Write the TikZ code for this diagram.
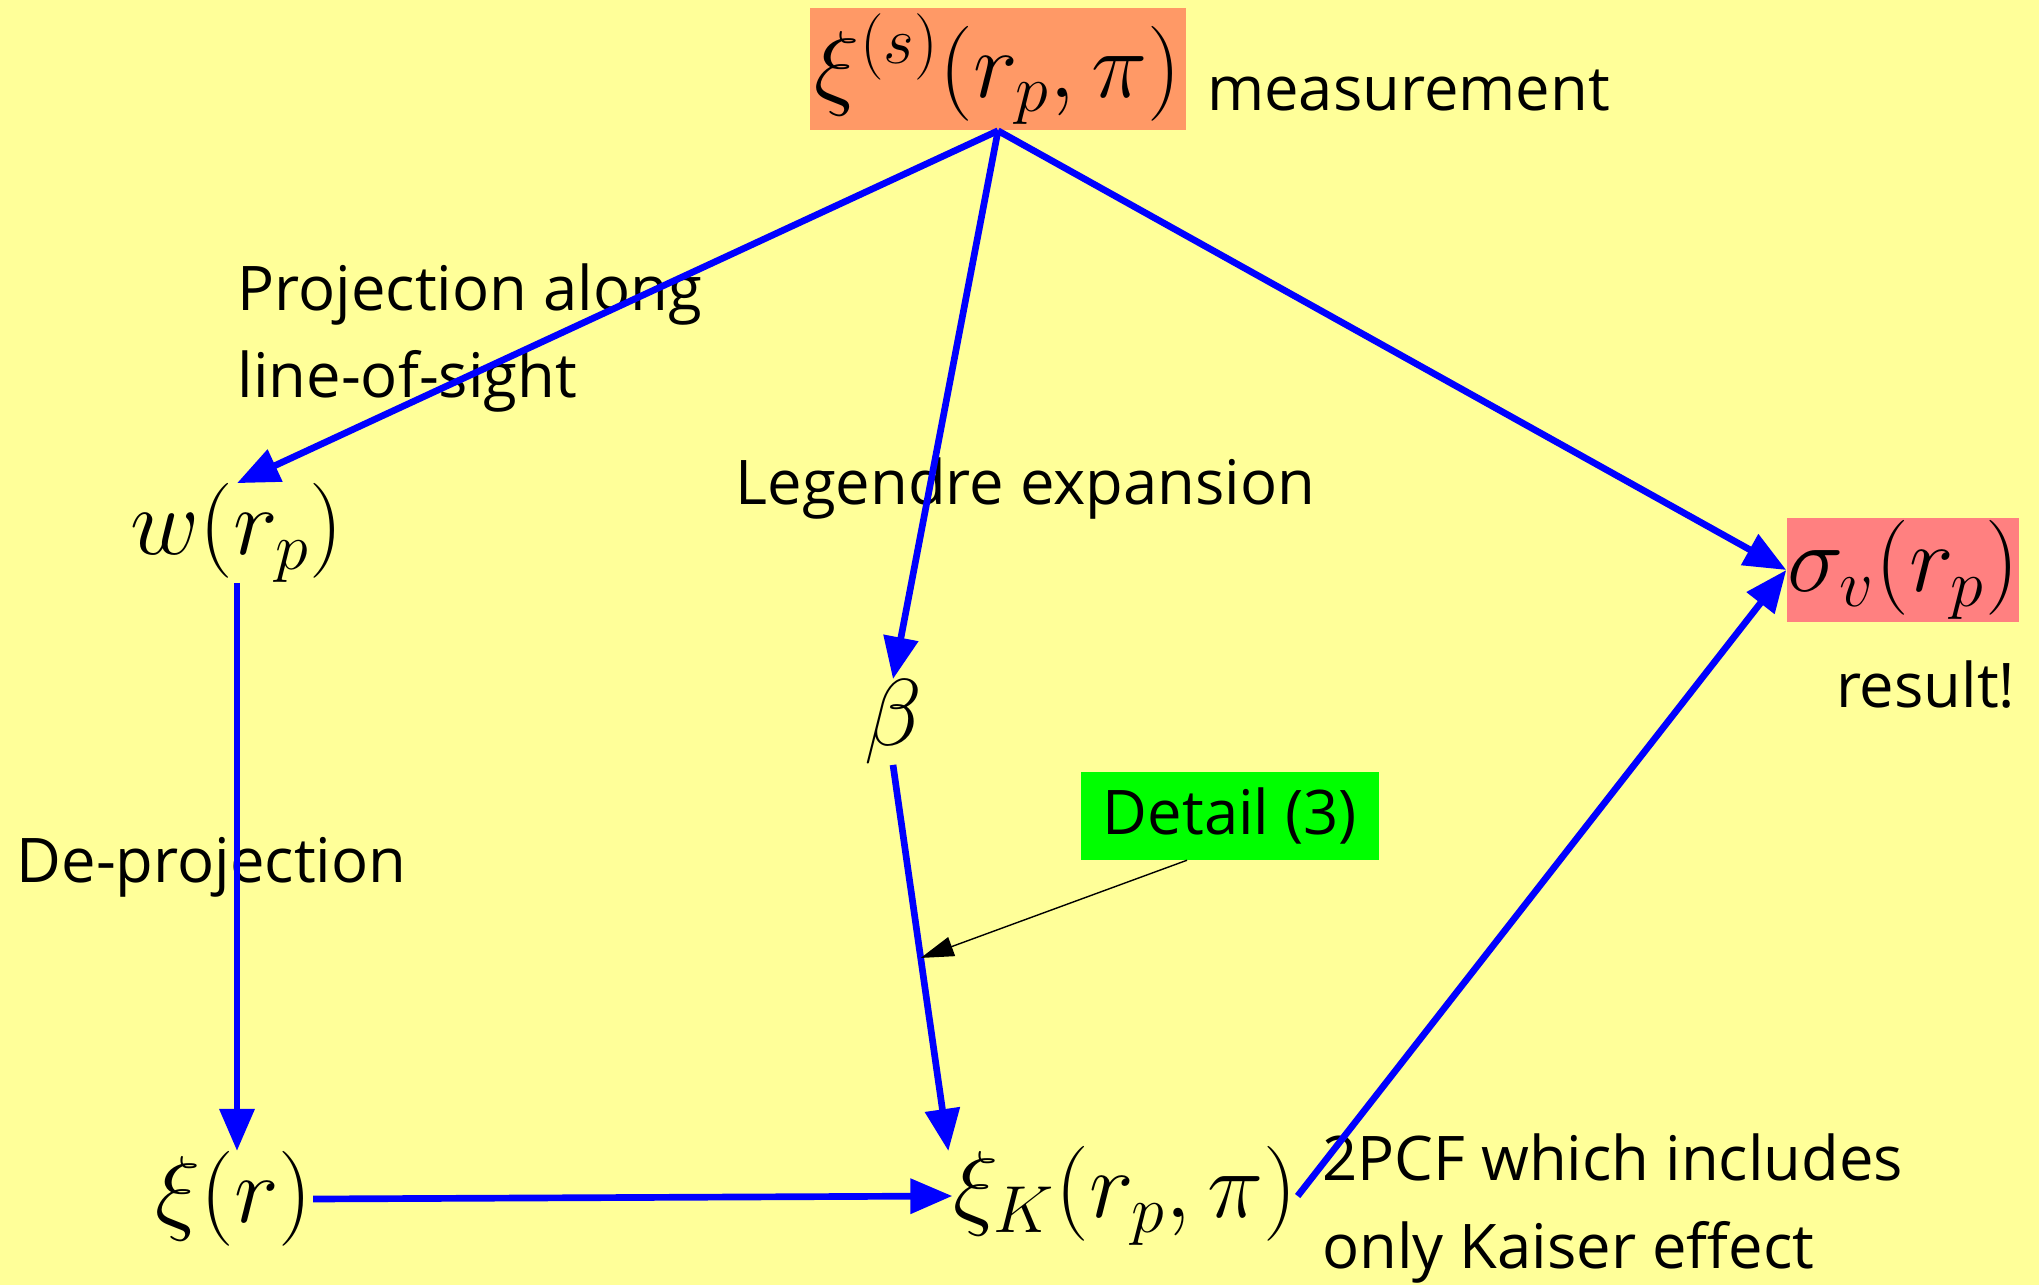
\documentclass[tikz,border=0pt]{standalone}
\usepackage{fix-cm}
\usepackage{fontspec}
\setmainfont{Open Sans}
\usepackage{tikz}
\usetikzlibrary{arrows.meta,positioning,calc}
\definecolor{bgyellow}{HTML}{FFFF99}
\definecolor{measurecolor}{HTML}{FF9966}
\definecolor{resultcolor}{HTML}{FF8080}
\definecolor{detailcolor}{HTML}{00FF00}

\begin{document}
\begin{tikzpicture}[
    x=0.01cm, y=-0.01cm,
    qty/.style={inner sep=0pt,
                font=\fontsize{27}{30}\selectfont},
    note/.style={anchor=west, inner sep=0pt, align=left,
                 font=\fontsize{17.5}{25}\selectfont},
    flow/.style={-{Triangle[length=0.42cm,width=0.34cm]},
                 draw=blue, line width=1.9pt},
    hint/.style={-{Triangle[length=0.33cm,width=0.2cm]},
                 draw=black, line width=0.4pt}
]
\fill[bgyellow] (0,0) rectangle (2039,1285);
\useasboundingbox (0,0) rectangle (2039,1285);

\node (xis) [qty, fill=measurecolor, minimum width=3.75cm,
             minimum height=1.22cm] at (998,69) {$\xi^{(s)}(r_p,\pi)$};
\node (meas) [note, right=0.2cm of xis, yshift=-6pt] {measurement};
\node (w) [qty] at (237,533) {$w(r_p)$};
\node (xir) [qty] at (234,1199) {$\xi(r)$};
\node (beta) [qty] at (893,722) {$\beta$};
\node (xiK) [qty] at (1125,1196) {$\xi_K(r_p,\pi)$};
\node (sigma) [qty, fill=resultcolor, minimum width=2.3cm,
               minimum height=1.04cm] at (1903,570) {$\sigma_v(r_p)$};
\node (res) [note, anchor=east] at (2016,685) {result!};
\node (detail) [note, anchor=center, fill=detailcolor,
                minimum width=2.97cm, minimum height=0.87cm]
      at (1230,816) {Detail (3)};

\node (proj) [note] at (237,338) {Projection along\\line-of-sight};
\node (legendre) [note] at (735,489) {Legendre expansion};
\node (deproj) [note] at (16,867) {De-projection};
\node (kaiser) [note, right=0.24cm of xiK, yshift=-3.5pt]
      {2PCF which includes\\only Kaiser effect};

\draw[flow] (xis.south) -- (w.north);
\draw[flow] (xis.south) -- (beta.north);
\draw[flow] (xis.south) -- (sigma.west);
\draw[flow] (w.south) -- (w.south |- xir.north);
\draw[flow] (xir.east) -- (xiK.west);
\draw[flow] (beta.south) -- coordinate[pos=0.5] (hit)
            ($(xiK.west)+(-4,-45)$);
\draw[flow] (xiK.east) -- (sigma.west);
\draw[hint] ($(detail.south)+(-43,0)$) -- (hit);
\end{tikzpicture}
\end{document}
